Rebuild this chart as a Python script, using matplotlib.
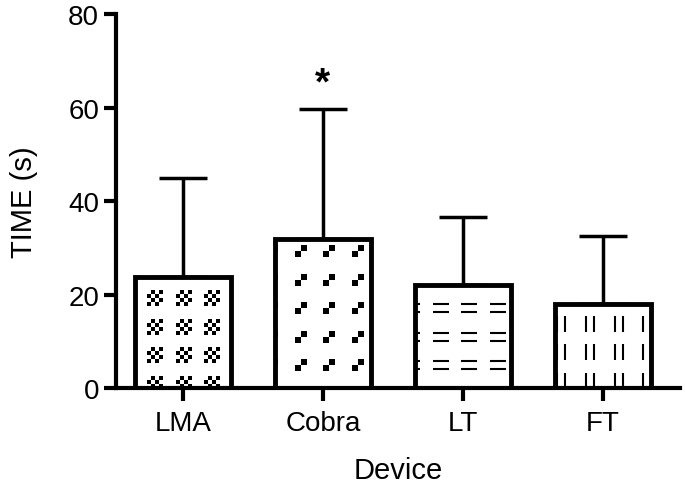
import numpy as np
import matplotlib
matplotlib.use('Agg')
import matplotlib.pyplot as plt
from matplotlib.path import Path

plt.rcParams['font.family'] = ['Liberation Sans', 'DejaVu Sans']

devices = ['LMA', 'Cobra', 'LT', 'FT']
mean_time = [23.8, 31.8, 22.0, 18.0]
sd_time = [21.2, 28.0, 14.5, 14.5]
yticks = [0, 20, 40, 60, 80]


def squares_path(cells, n):
    # build a marker path out of small squares on an n x n grid
    verts, codes = [], []
    s = 1.0 / n
    for (i, j) in cells:
        x0, y0 = -0.5 + i * s, -0.5 + j * s
        verts += [(x0, y0), (x0 + s, y0), (x0 + s, y0 + s), (x0, y0 + s), (x0, y0)]
        codes += [Path.MOVETO, Path.LINETO, Path.LINETO, Path.LINETO, Path.CLOSEPOLY]
    return Path(verts, codes)


def dashes_path(horizontal):
    if horizontal:
        verts = [(-0.5, -0.25), (0.5, -0.25), (-0.5, 0.25), (0.5, 0.25)]
    else:
        verts = [(-0.25, -0.5), (-0.25, 0.5), (0.25, -0.5), (0.25, 0.5)]
    codes = [Path.MOVETO, Path.LINETO, Path.MOVETO, Path.LINETO]
    return Path(verts, codes)


checker = squares_path([(i, j) for i in range(4) for j in range(4) if (i + j) % 2 == 0], 4)
diag = squares_path([(0, 0), (1, 1)], 2)
hdash = dashes_path(True)
vdash = dashes_path(False)

# marker, size, filled, x phase, y phase (pattern offsets inside each bar)
patterns = [
    (checker, 11, True, -0.2, 0.9),
    (diag, 9, True, -0.16, 4.9),
    (hdash, 11, False, -0.16, 4.9),
    (vdash, 11, False, -0.3, 1.5),
]

fig = plt.figure(figsize=(6.85, 4.89), dpi=100)
ax = fig.add_axes([0.169, 0.2045, 0.824, 0.7645])

x = np.arange(len(devices))
width = 0.69
bars = ax.bar(x, mean_time, width, color='white', edgecolor='none', zorder=1)
ax.bar(x, mean_time, width, fill=False, edgecolor='black', linewidth=3.5, zorder=3)
ax.errorbar(x, mean_time, yerr=[np.zeros(len(sd_time)), sd_time], fmt='none',
            ecolor='black', elinewidth=2.5, capsize=17, capthick=2.5, zorder=0.5)

dx, dy = 0.205, 6.1
for b, xi, h, (mk, sz, filled, px, py) in zip(bars, x, mean_time, patterns):
    gx = np.arange(xi + px - 3 * dx, xi + width, dx)
    gy = np.arange(py, h + dy, dy)
    X, Y = np.meshgrid(gx, gy)
    if filled:
        sc = ax.scatter(X.ravel(), Y.ravel(), marker=mk, s=sz ** 2, c='black', linewidths=0, zorder=2)
    else:
        sc = ax.scatter(X.ravel(), Y.ravel(), marker=mk, s=sz ** 2, c='black', linewidths=1.5, zorder=2)
    sc.set_clip_path(b)

ax.text(x[1], mean_time[1] + sd_time[1] + 5.3, '*', ha='center', va='center', fontsize=28, fontweight='bold')

ax.set_xlim(-0.479, 3.55)
ax.set_ylim(0, 80)
ax.set_yticks(yticks)
ax.set_xticks(x)
ax.set_xticklabels(devices)
ax.set_xlabel('Device', fontsize=21, labelpad=14)
ax.set_ylabel('TIME (s)', fontsize=21, labelpad=22)
ax.tick_params(labelsize=20, width=3, length=9, direction='out', pad=3)
ax.tick_params(axis='x', pad=7)
for side in ['top', 'right']:
    ax.spines[side].set_visible(False)
for side in ['left', 'bottom']:
    ax.spines[side].set_linewidth(3)
    ax.spines[side].set_zorder(4)

fig.savefig('out.png', dpi=100)
